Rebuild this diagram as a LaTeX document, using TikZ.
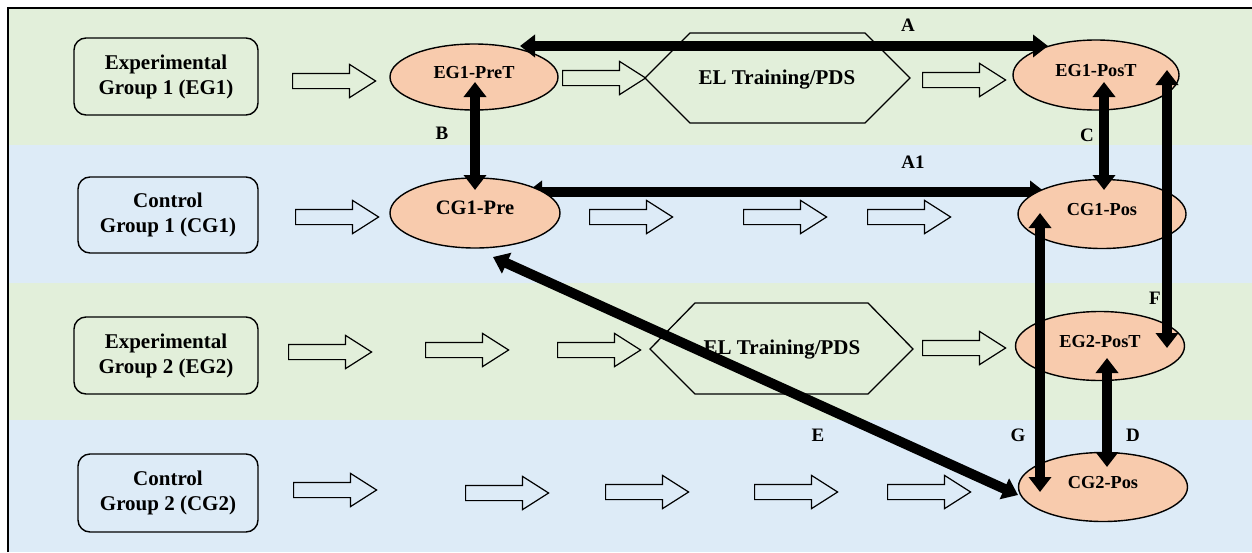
\documentclass[tikz,border=0pt]{standalone}
\usepackage{fontspec}
\setmainfont{Liberation Serif}
\usetikzlibrary{shapes.arrows,shapes.geometric,arrows.meta,calc}
\pgfdeclarelayer{bg}\pgfdeclarelayer{mid}\pgfsetlayers{bg,mid,main}
\definecolor{bandgreen}{HTML}{E2EFDA}
\definecolor{bandblue}{HTML}{DDEBF7}
\definecolor{peach}{HTML}{F8CBAD}
\newcommand{\fs}[2]{\fontsize{#1}{#2}\selectfont\bfseries}
\newcommand{\up}[1]{\raisebox{-1pt}[0pt][0pt]{#1}}
\begin{document}
\begin{tikzpicture}[x=1pt,y=-1pt,
 grp/.style={draw, line width=1.4pt, rounded corners=12pt, align=center, font=\fs{21}{25}, inner sep=0pt},
 ell/.style={ellipse, draw, line width=1.4pt, fill=peach, inner sep=0pt, font=\fs{18.3}{20}},
 oarr/.style={single arrow, draw, line width=1.2pt, inner sep=7pt, single arrow head extend=9pt, single arrow tip angle=65, minimum height=83pt, anchor=tail},
 thk/.style={line width=10pt, {Triangle[width=22pt,length=15pt]}-{Triangle[width=22pt,length=15pt]}},
 lbl/.style={font=\fs{19}{20}, inner sep=0pt},
 hexa/.style={draw, line width=1.3pt},
 hext/.style={font=\fs{21}{22}, inner sep=0pt}]
\useasboundingbox (0,0) rectangle (1252,552);
\begin{pgfonlayer}{bg}
\fill[bandgreen] (8,8) rectangle (1252,145);
\fill[bandblue] (8,145) rectangle (1252,283);
\fill[bandgreen] (8,283) rectangle (1252,420);
\fill[bandblue] (8,420) rectangle (1252,552);
\end{pgfonlayer}
\draw[line width=1.5pt] (8,552) -- (8,8) -- (1252,8);

% group boxes
\node[grp, minimum width=184pt, minimum height=77pt] (eg1) at (166,76.5) {Experimental\\Group 1 (EG1)};
\node[grp, minimum width=180pt, minimum height=76pt] (cg1) at (168,215) {Control\\Group 1 (CG1)};
\node[grp, minimum width=184pt, minimum height=77pt] (eg2) at (166,355.5) {Experimental\\Group 2 (EG2)};
\node[grp, minimum width=180pt, minimum height=78pt] (cg2) at (168,493) {Control\\Group 2 (CG2)};

% hexagons
\draw[hexa] (645,78) -- (690,33) -- (865,33) -- (910,78) -- (865,123) -- (690,123) -- cycle;
\node[hext] (hex1) at (777,80) {EL Training/PDS};
\draw[hexa] (650,349) -- (695,303) -- (868,303) -- (913,349) -- (868,394) -- (695,394) -- cycle;
\node[hext] (hex2) at (782,350) {EL Training/PDS};

% open arrows
\node[oarr] (r1a) at (292,81) {};
\node[oarr] (r1b) at (562,78) {};
\node[oarr] (r1c) at (922,80) {};
\node[oarr] (r2a) at (295,217) {};
\node[oarr] (r2b) at (589,217) {};
\node[oarr] (r2c) at (743,217) {};
\node[oarr] (r2d) at (867,217) {};
\node[oarr] (r3a) at (288,352) {};
\node[oarr] (r3b) at (425,350) {};
\node[oarr] (r3c) at (557,350) {};
\node[oarr] (r3d) at (922,348) {};
\node[oarr] (r4a) at (293,490) {};
\node[oarr] (r4b) at (465,493) {};
\node[oarr] (r4c) at (605,492) {};
\node[oarr] (r4d) at (754,492) {};
\node[oarr] (r4e) at (887,492) {};

% ellipses
\node[ell, minimum width=168pt, minimum height=66pt] (eg1pre) at (474,77) {\up{EG1-PreT}};
\node[ell, minimum width=170pt, minimum height=70pt, font=\fs{20.5}{22}] (cg1pre) at (475,213) {\up{CG1-Pre}};
\node[ell, minimum width=166pt, minimum height=70pt] (eg1post) at (1096,75) {\up{EG1-PosT}};
\node[ell, minimum width=168pt, minimum height=69pt] (cg1pos) at (1102,214) {\up{CG1-Pos}};
\node[ell, minimum width=169pt, minimum height=69pt] (eg2post) at (1100,346) {\up{EG2-PosT}};
\node[ell, minimum width=169pt, minimum height=69pt] (cg2pos) at (1103,487) {\up{CG2-Pos}};

% labels
\node[lbl] (la) at (908,25) {A};
\node[lbl] (la1) at (913,162) {A1};
\node[lbl] (lb) at (442,133) {B};
\node[lbl] (lc) at (1087,135) {C};
\node[lbl] (ld) at (1133,435) {D};
\node[lbl] (le) at (818,435) {E};
\node[lbl] (lf) at (1155,298) {F};
\node[lbl] (lg) at (1018,435) {G};

% thick connectors
\begin{pgfonlayer}{mid}
\draw[thk] ($(cg1pre.center)+(52,-21)$) -- ($(cg1pos.center)+(-57,-22)$);
\end{pgfonlayer}
\draw[thk] ($(eg1pre.center)+(46,-31)$) -- ($(eg1post.center)+(-48,-29)$);
\draw[thk] ($(eg1pre.center)+(1,5)$) -- ($(cg1pre.center)+(0,-23)$);
\draw[thk] ($(eg1post.center)+(8,7)$) -- ($(cg1pos.center)+(2,-24)$);
\draw[thk] ($(eg1post.center)+(71,-5)$) -- ($(eg2post.center)+(67,2)$);
\draw[thk] ($(cg1pos.center)+(-62,-1)$) -- ($(cg2pos.center)+(-63,5)$);
\draw[thk] ($(eg2post.center)+(7,12)$) -- ($(cg2pos.center)+(4,-20)$);
\draw[thk] ($(cg1pre.center)+(18,44)$) -- ($(cg2pos.center)+(-85,8)$);
\end{tikzpicture}
\end{document}
